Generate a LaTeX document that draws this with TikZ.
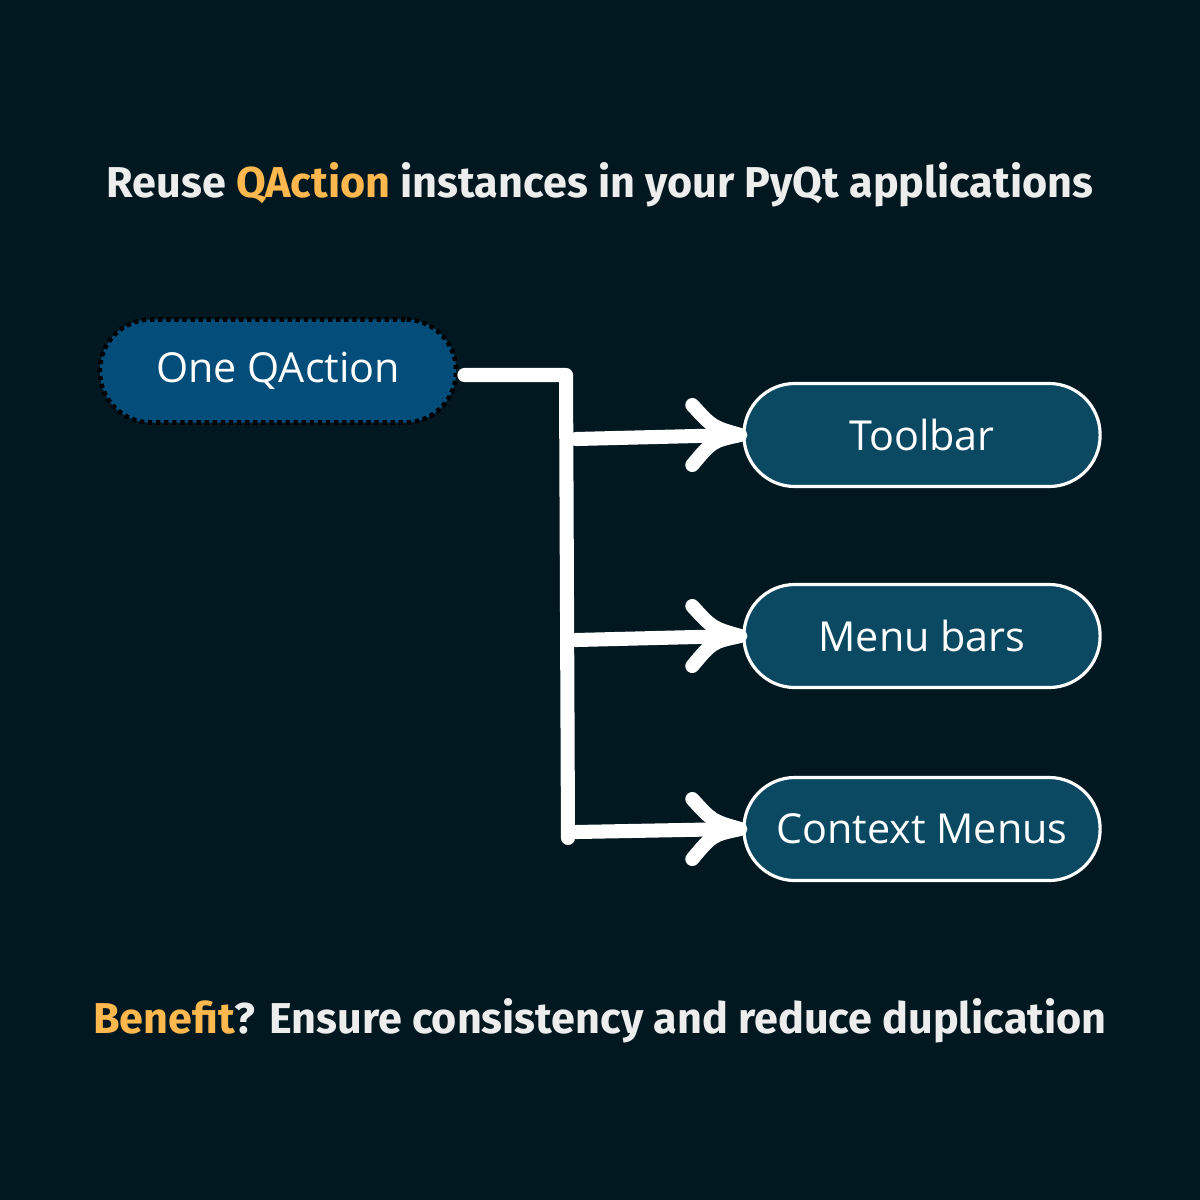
\documentclass[tikz,border=0pt]{standalone}
\usepackage{fontspec}
\setmainfont{Open Sans}
\newfontfamily\headfont{Fira Sans}
\usetikzlibrary{calc}
\definecolor{bgdark}{HTML}{021820}
\definecolor{srcblue}{HTML}{024D7A}
\definecolor{tgtblue}{HTML}{0B4962}
\definecolor{accent}{HTML}{FFB84D}
\definecolor{headtext}{HTML}{EDEDED}
\tikzset{
  x=0.01cm, y=-0.01cm,
  pill/.style={rectangle, rounded corners=0.51cm, minimum width=3.56cm, minimum height=1.03cm,
    text=white, font=\fontsize{11.75}{14}\selectfont},
  srcpill/.style={pill, fill=srcblue, draw=black, line width=1.3pt,
    dash pattern=on 1.2pt off 1.1pt},
  tgtpill/.style={pill, fill=tgtblue, draw=white, line width=0.9pt},
  flow/.style={white, line width=4pt, line cap=round, line join=round},
  headline/.style={font=\headfont\bfseries\fontsize{12.27}{15}\selectfont, text=headtext},
}
\newcommand{\chevron}[1]{%
  \draw[flow] ($(#1.west)+(-50,-30)$) .. controls ($(#1.west)+(-30,-8)$) .. ($(#1.west)+(-2,0)$)
              .. controls ($(#1.west)+(-30,6)$) .. ($(#1.west)+(-50,30)$);}
\begin{document}
\begin{tikzpicture}
  \fill[bgdark] (0,0) rectangle (1200,1200);
  \useasboundingbox (0,0) rectangle (1200,1200);

  \node[headline] (title) at (600,185) {Reuse \textcolor{accent}{QAction} instances in your PyQt applications};

  \node[srcpill] (src) at (278,371) {One QAction};
  \node[tgtpill] (tb) at (922,435) {Toolbar};
  \node[tgtpill] (mb) at (922,636) {Menu bars};
  \node[tgtpill] (cm) at (922,829) {Context Menus};

  % trunk from the source node down past the last branch
  \coordinate (top) at (566,375);
  \coordinate (bottom) at (568,838);
  \draw[flow] ($(src.east)+(6,4)$) -- (top) -- (bottom);

  % branches
  \coordinate (j1) at (576,439);
  \coordinate (j2) at (576,640);
  \coordinate (j3) at (576,832);
  \draw[flow] (j1) -- ($(tb.west)+(-6,0)$);
  \draw[flow] (j2) -- ($(mb.west)+(-6,0)$);
  \draw[flow] (j3) -- ($(cm.west)+(-6,0)$);
  \chevron{tb}
  \chevron{mb}
  \chevron{cm}

  \node[headline] (benefit) at (600,1021) {\textcolor{accent}{Benefit}? Ensure consistency and reduce duplication};
\end{tikzpicture}
\end{document}
